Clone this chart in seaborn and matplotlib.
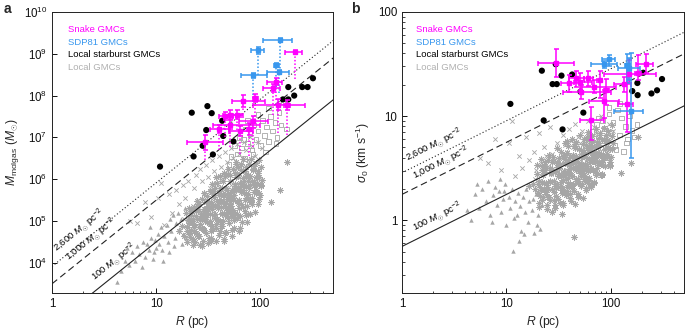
import numpy as np
import matplotlib
matplotlib.use("Agg")
import matplotlib.pyplot as plt
import matplotlib.ticker as mticker
import seaborn as sns

sns.set_style("ticks")
plt.rcParams['font.family'] = ['Liberation Sans', 'DejaVu Sans']
plt.rcParams['mathtext.fontset'] = 'custom'
plt.rcParams['mathtext.rm'] = 'Liberation Sans'
plt.rcParams['mathtext.it'] = 'Liberation Sans:italic'
plt.rcParams['mathtext.bf'] = 'Liberation Sans:bold'

# ---------------- data ----------------
# Local GMCs (grey), log10 values: R [pc], M [Msun], sigma [km/s]
ast_logR = [1.22,1.27,1.31,1.35,1.38,1.42,1.45,1.48,1.51,1.54,
            1.57,1.60,1.63,1.66,1.69,1.72,1.75,1.78,1.81,1.84,
            1.87,1.90,1.93,1.96,1.99,2.02,1.25,1.30,1.34,1.39,
            1.43,1.47,1.50,1.53,1.56,1.59,1.62,1.65,1.68,1.71,
            1.74,1.77,1.80,1.83,1.86,1.89,1.92,1.95,1.98,2.01,
            1.36,1.41,1.46,1.49,1.52,1.55,1.58,1.61,1.64,1.67,
            1.70,1.73,1.76,1.79,1.82,1.85,1.88,1.91,1.94,1.97,
            1.44,1.48,1.52,1.56,1.60,1.64,1.68,1.72,1.76,1.80,
            1.84,1.88,1.55,1.59,1.63,1.67,1.71,1.75,1.79,1.83,
            1.40,1.50,1.58,1.66,1.74,1.82,1.62,1.70,1.78,1.86,
            1.33,1.53,1.69,1.77,1.57,1.65,1.73,1.81,1.61,1.90,
            1.47,1.54,1.68,1.75,1.62,1.71,1.79,1.87,1.58,1.66,
            2.19,2.26,2.10]
ast_logM = [4.77,4.64,5.02,4.56,5.24,4.92,4.82,5.24,4.59,5.28,
            5.07,5.66,4.88,5.40,6.12,5.17,5.72,5.47,4.83,5.96,
            5.36,5.86,6.24,5.73,5.53,5.97,4.88,4.75,5.23,4.69,
            5.07,5.00,5.36,4.77,5.57,5.02,5.34,6.14,5.22,5.67,
            5.10,6.06,5.50,5.75,5.15,6.03,5.56,5.86,6.19,5.83,
            4.86,4.63,5.13,5.49,4.99,5.38,4.92,4.77,5.65,5.31,
            5.55,5.19,6.14,5.09,5.83,5.50,6.10,5.45,5.85,6.04,
            4.39,5.09,4.92,5.15,5.48,4.99,5.52,5.37,5.84,5.30,
            5.67,5.65,5.72,5.37,5.16,5.80,5.47,5.02,6.09,5.88,
            5.41,5.28,6.05,4.72,5.51,6.22,4.97,5.25,5.17,6.08,
            4.72,4.53,5.63,6.36,5.16,4.52,4.79,5.12,5.78,5.16,
            5.29,5.69,5.13,5.62,5.61,5.37,6.28,5.63,4.83,6.07,
            5.74,6.42,5.45]
ast_logsig = [0.33,0.30,0.38,0.22,0.50,0.37,0.19,0.51,0.17,0.42,
              0.40,0.53,0.34,0.51,0.68,0.35,0.64,0.47,0.32,0.66,
              0.50,0.63,0.77,0.64,0.56,0.74,0.35,0.26,0.52,0.29,
              0.45,0.31,0.44,0.26,0.55,0.41,0.50,0.71,0.36,0.61,
              0.40,0.69,0.56,0.65,0.43,0.65,0.58,0.63,0.76,0.68,
              0.36,0.22,0.46,0.55,0.37,0.47,0.32,0.25,0.55,0.48,
              0.49,0.43,0.72,0.41,0.61,0.56,0.71,0.54,0.68,0.70,
              0.08,0.35,0.33,0.43,0.49,0.35,0.56,0.50,0.61,0.49,
              0.62,0.55,0.63,0.45,0.42,0.60,0.46,0.38,0.70,0.58,
              0.58,0.50,0.76,0.16,0.48,0.75,0.34,0.45,0.36,0.70,
              0.29,0.06,0.53,0.80,0.44,-0.16,0.21,0.35,0.61,0.43,
              0.47,0.62,0.40,0.53,0.54,0.42,0.77,0.61,0.28,0.71,
              0.55,0.80,0.45]

# denser core of the local-GMC cloud
core_logR = [1.300,1.312,1.292,1.306,1.289, 1.325,1.337,1.317,1.331,1.314,
             1.350,1.362,1.342,1.356,1.339, 1.375,1.387,1.367,1.381,1.364,
             1.400,1.412,1.392,1.406,1.389, 1.425,1.437,1.417,1.431,1.414,
             1.450,1.462,1.442,1.456,1.439, 1.475,1.487,1.467,1.481,1.464,
             1.500,1.512,1.492,1.506,1.489, 1.525,1.537,1.517,1.531,1.514,
             1.550,1.562,1.542,1.556,1.539, 1.575,1.587,1.567,1.581,1.564,
             1.600,1.612,1.592,1.606,1.589, 1.625,1.637,1.617,1.631,1.614,
             1.650,1.662,1.642,1.656,1.639, 1.675,1.687,1.667,1.681,1.664,
             1.700,1.712,1.692,1.706,1.689, 1.725,1.737,1.717,1.731,1.714,
             1.750,1.762,1.742,1.756,1.739, 1.775,1.787,1.767,1.781,1.764,
             1.800,1.812,1.792,1.806,1.789, 1.825,1.837,1.817,1.831,1.814,
             1.850,1.862,1.842,1.856,1.839, 1.875,1.887,1.867,1.881,1.864,
             1.900,1.912,1.892,1.906,1.889, 1.925,1.937,1.917,1.931,1.914,
             1.950,1.962,1.942,1.956,1.939, 1.975,1.987,1.967,1.981,1.964,
             2.000,2.012,1.992,2.006,1.989]
core_logM = [4.50,4.68,4.85,5.02,5.19, 4.61,4.79,4.96,5.14,5.30,
             4.42,4.77,4.96,5.04,5.25, 4.49,4.71,4.92,5.13,5.33,
             4.63,4.85,5.05,5.28,5.47, 4.42,4.83,5.06,5.16,5.41,
             4.53,4.79,5.04,5.28,5.52, 4.71,4.97,5.20,5.46,5.68,
             4.47,4.94,5.20,5.31,5.59, 4.60,4.89,5.17,5.45,5.72,
             4.80,5.08,5.35,5.63,5.88, 4.53,5.05,5.35,5.47,5.78,
             4.67,4.99,5.30,5.61,5.91, 4.87,5.19,5.48,5.80,6.08,
             4.58,5.15,5.48,5.61,5.95, 4.73,5.08,5.42,5.75,6.08,
             4.95,5.29,5.61,5.95,6.25, 4.65,5.26,5.60,5.74,6.11,
             4.83,5.20,5.55,5.89,6.24, 5.08,5.43,5.76,6.11,6.41,
             4.77,5.40,5.76,5.90,6.28, 4.98,5.34,5.69,6.03,6.37,
             5.23,5.56,5.87,6.20,6.49, 4.98,5.53,5.84,5.96,6.29,
             5.16,5.48,5.78,6.07,6.37, 5.41,5.69,5.95,6.23,6.48,
             5.22,5.68,5.94,6.05,6.32, 5.41,5.67,5.91,6.15,6.38,
             5.63,5.85,6.05,6.28,6.47]
core_logsig = [0.35,0.17,0.53,0.26,0.44, 0.23,0.48,0.32,0.59,0.13,
               0.43,0.29,0.19,0.52,0.37, 0.36,0.15,0.56,0.25,0.46,
               0.22,0.50,0.32,0.63,0.11, 0.46,0.30,0.19,0.56,0.38,
               0.38,0.15,0.61,0.27,0.49, 0.23,0.55,0.35,0.69,0.12,
               0.50,0.32,0.20,0.60,0.42, 0.42,0.17,0.66,0.29,0.54,
               0.27,0.59,0.39,0.74,0.15, 0.54,0.36,0.24,0.65,0.46,
               0.46,0.21,0.71,0.34,0.58, 0.31,0.63,0.43,0.78,0.18,
               0.58,0.40,0.28,0.69,0.50, 0.50,0.25,0.75,0.38,0.62,
               0.35,0.67,0.47,0.82,0.22, 0.62,0.45,0.33,0.73,0.54,
               0.54,0.31,0.78,0.42,0.66, 0.40,0.71,0.52,0.85,0.29,
               0.67,0.50,0.39,0.76,0.59, 0.59,0.37,0.81,0.48,0.70,
               0.46,0.75,0.57,0.88,0.36, 0.70,0.55,0.45,0.79,0.64,
               0.64,0.43,0.84,0.54,0.74, 0.53,0.78,0.62,0.89,0.44,
               0.74,0.61,0.52,0.82,0.68, 0.69,0.52,0.86,0.61,0.77,
               0.61,0.81,0.68,0.91,0.53]

crs_logR = [0.82,0.89,0.95,1.02,1.08,1.12,1.15,1.19,1.22,1.26,
            1.28,1.31,1.33,1.36,1.38,1.40,1.42,1.44,1.46,1.48,
            1.50,1.52,1.54,1.56,1.58,1.60,1.62,1.64,1.66,1.68,
            1.70,1.72,1.74,1.76,1.78,1.80,1.82,1.84,1.86,1.88,
            1.90,1.92,1.95,1.98,2.02,1.58,1.65,1.72,1.79,1.85,
            1.55,1.62,1.69,1.76,1.83,1.27,1.35,1.43,1.05,0.75]
crs_logM = [4.95,5.45,5.10,5.55,4.90,5.65,5.20,5.75,5.40,5.85,
            5.55,5.95,5.25,5.80,6.10,5.50,6.25,5.95,5.65,6.35,
            6.05,5.80,6.45,6.20,5.90,6.55,6.30,6.00,6.65,6.40,
            6.15,6.75,6.50,6.25,6.85,6.60,6.35,6.90,6.70,6.45,
            7.00,6.80,6.55,6.90,6.75,5.40,5.70,5.85,6.05,6.15,
            5.60,5.95,5.55,5.75,5.90,5.05,5.35,5.25,5.90,5.00]
crs_logsig = [0.55,0.78,0.48,0.74,0.42,0.62,0.50,0.80,0.58,0.66,
              0.48,0.84,0.55,0.70,0.62,0.52,0.90,0.64,0.58,0.74,
              0.68,0.60,0.82,0.72,0.66,0.88,0.76,0.70,0.92,0.80,
              0.74,0.86,0.78,0.72,0.95,0.82,0.76,0.90,0.84,0.78,
              1.00,0.88,0.80,0.92,0.86,0.48,0.58,0.62,0.66,0.70,
              0.55,0.63,0.52,0.57,0.64,0.40,0.46,0.44,0.95,0.60]

tri_logR = [0.62,0.66,0.70,0.74,0.77,0.80,0.82,0.84,0.87,0.89,
            0.91,0.93,0.95,0.97,0.99,1.00,1.02,1.03,1.05,1.06,
            1.08,1.10,1.11,1.13,1.14,1.16,1.18,1.19,1.21,1.22,
            1.24,1.26,1.28,1.30,1.32,1.34,0.72,0.86,0.94,1.07,
            1.17,1.25,1.12,1.29,0.98]
tri_logM = [3.55,3.80,4.05,3.95,4.25,4.05,4.40,4.20,4.50,4.15,
            4.45,4.30,4.60,4.10,4.55,4.35,4.70,4.45,4.85,4.30,
            4.65,4.90,4.50,5.05,4.75,5.15,4.60,4.95,5.20,4.80,
            5.05,4.70,5.30,4.90,5.10,4.55,4.35,3.90,4.85,4.05,
            4.40,4.45,4.25,4.60,4.25]
tri_logsig = [0.10,0.00,0.25,0.12,0.30,0.18,0.38,0.05,0.24,0.32,
              0.15,0.28,0.08,0.20,0.35,-0.05,0.22,0.12,0.30,-0.30,
              0.18,0.05,0.26,0.14,-0.10,0.22,0.08,0.30,-0.02,0.18,
              0.10,-0.12,0.25,0.05,-0.08,0.15,0.35,-0.02,0.40,0.02,
              -0.13,0.20,-0.20,-0.05,0.28]

sq_logR = [1.72,1.75,1.78,1.80,1.82,1.84,1.86,1.88,1.90,1.92,
           1.94,1.96,1.98,2.00,2.02,2.04,2.06,2.08,2.10,2.12,
           2.14,2.16,2.18,2.20,1.70,1.85,1.93,2.05,2.15,2.25,
           1.98,2.08,2.22,1.88]
sq_logM = [6.55,6.80,6.60,7.00,6.75,6.95,7.20,6.85,7.10,6.70,
           7.30,6.95,7.15,6.80,7.40,7.05,7.25,6.90,7.50,7.15,
           7.35,7.00,7.60,7.30,6.35,6.50,6.60,6.65,6.85,7.20,
           7.55,7.70,7.85,7.40]
sq_logsig = [0.62,0.70,0.78,0.66,0.85,0.74,0.92,0.80,0.70,0.96,
             0.88,0.76,1.02,0.84,0.94,0.72,1.06,0.82,0.98,0.66,
             0.90,0.78,1.00,0.86,0.58,0.64,0.60,0.68,0.74,0.92,
             1.08,1.12,0.80,0.98]

# Local starburst GMCs (black)
sb_R_a = [10.9, 22.0, 31.1, 34.2, 43.1, 30.3, 44.1, 28.0, 22.9, 35.1, 55.3,
          186, 253, 285, 321, 212, 165, 186]
sb_M = [2.0e6, 3.9e7, 5.6e7, 3.8e7, 2.5e7, 1.5e7, 1.08e7, 6.3e6, 3.5e6, 3.9e6, 8.0e6,
        1.6e8, 1.6e8, 1.6e8, 2.6e8, 1.0e8, 8.1e7, 8.1e7]
sb_R_b = [10.9, 22.7, 21.8, 27.6, 30.3, 29.6, 33.6, 34.4, 42.5, 51.0, 54.4,
          160, 180, 179, 244, 276, 308, 204]
sb_sig = [13.1, 9.1, 27.3, 20.3, 20.3, 31.5, 24.5, 7.45, 25.1, 17.2, 10.8,
          17.4, 15.9, 20.8, 16.5, 17.7, 22.7, 26.1]

# Snake GMCs (magenta)
snake_R = [216, 142, 134, 69, 89, 148, 181, 51, 46, 51.5, 85, 64, 29.6, 40, 60, 78]
snake_Rlo = [174, 116, 107, 53, 85, 86, 170, 44, 40, 35, 62, 50, 20, 33, 55, 74]
snake_Rhi = [252, 162, 155, 111, 95, 271, 195, 66, 55, 100, 120, 85, 44, 50, 68, 82]
snake_M = [1.09e9, 2.15e8, 1.5e8, 7.5e7, 8.9e7, 6.0e7, 6.0e7, 3.5e7, 3.2e7, 2.0e7,
           2.4e7, 1.45e7, 7.9e6, 1.6e7, 3.5e7, 1.55e7]
snake_Mlo = [0.97e9, 1.75e8, 1.2e8, 5.2e7, 7.0e7, 4.4e7, 4.5e7, 2.8e7, 2.6e7, 1.55e7,
             1.7e7, 1.1e7, 5.0e6, 1.3e7, 2.8e7, 1.15e7]
snake_Mhi = [1.2e9, 2.6e8, 1.9e8, 1.05e8, 1.1e8, 8.5e7, 8.0e7, 4.6e7, 4.0e7, 2.6e7,
             3.2e7, 1.9e7, 1.15e7, 2.0e7, 4.5e7, 2.2e7]
snake_Mdot = [2.5e8, 7.9e7, 3.4e7, 4.5e7, 2.6e7, 1.27e7, 1.15e7, 1.2e7, 1.0e7, 6.0e6,
              6.0e6, 4.0e6, 2.9e6, 5.0e6, 1.5e7, 3.5e6]
snake_sig = [32.0, 13.2, 20.5, 19.1, 17.8, 25.2, 25.7, 21.4, 23.0, 17.1, 13.9, 9.2, 32.6, 21.0, 23.0, 22.0]
snake_siglo = [25.8, 7.1, 17.0, 16.5, 12.8, 20.6, 22.2, 17.8, 19.0, 14.5, 9.5, 5.9, 23.5, 17.0, 19.5, 15.0]
snake_sighi = [39.5, 30.9, 24.0, 22.2, 22.6, 34.5, 38.6, 25.8, 27.0, 20.0, 17.8, 12.1, 43.8, 25.0, 27.0, 27.0]

# SDP81 GMCs (blue)
sdp_R = [155, 95, 143, 150, 85]
sdp_Rlo = [106, 82, 135, 116, 65]
sdp_Rhi = [202, 109, 152, 189, 115]
sdp_M = [2.1e9, 1.23e9, 5.4e8, 3.6e8, 3.1e8]
sdp_Mlo = [1.9e9, 0.99e9, 4.9e8, 3.2e8, 2.7e8]
sdp_Mhi = [2.35e9, 1.48e9, 5.9e8, 4.0e8, 3.5e8]
sdp_Mdot = [3.7e8, 3.1e8, 1.6e8, 1.15e8, 7.1e7]
sdp_sig = [11.2, 35.3, 30.9, 29.0, 31.6]
sdp_siglo = [4.0, 30.3, 20.6, 22.0, 29.0]
sdp_sighi = [40.0, 38.6, 39.4, 36.0, 34.0]

surf_levels = [2600, 1000, 100]
surf_labels = ["2,600", "1,000", "100"]
yticks_a = [1e4, 1e5, 1e6, 1e7, 1e8, 1e9, 1e10]
yticks_b = [1, 10, 100]
xticks = [1, 10, 100]

# ---------------- style ----------------
GREY = "#a6a6a6"
MAG = "#ff00ff"
BLUE = "#3897ee"
LINEC = "#222222"
line_styles = [(0, (1, 2)), (0, (6, 3.5)), "-"]

fig = plt.figure(figsize=(6.85, 3.29), dpi=100)
axA = fig.add_axes([52/685, 1-293/329, 281/685, 281/329])
axB = fig.add_axes([402/685, 1-293/329, 282/685, 281/329])

def arr(v):
    return np.asarray(v, dtype=float)

def grey_cloud(ax, ycol):
    pick = lambda a, b: a if ycol == "a" else b
    groups = [
        (tri_logR, pick(tri_logM, tri_logsig), dict(marker="^", s=10, color=GREY, linewidth=0)),
        (ast_logR, pick(ast_logM, ast_logsig), dict(marker=(8, 2, 0), s=16, color=GREY, linewidth=0.6)),
        (core_logR, pick(core_logM, core_logsig), dict(marker=(8, 2, 0), s=16, color=GREY, linewidth=0.6)),
        (crs_logR, pick(crs_logM, crs_logsig), dict(marker="x", s=10, color=GREY, linewidth=0.6)),
    ]
    for xr, yr, kw in groups:
        sns.scatterplot(x=10**arr(xr), y=10**arr(yr), ax=ax, legend=False, zorder=1, **kw)
    sns.scatterplot(x=10**arr(sq_logR), y=10**arr(pick(sq_logM, sq_logsig)), ax=ax, legend=False,
                    zorder=1, marker="s", s=11, facecolor="none", edgecolor=GREY, linewidth=0.6)

Rl = np.logspace(0, np.log10(600), 60)

def model_a(surf, R):
    return np.pi * surf * R**2

def model_b(surf, R):
    return 0.56 * np.sqrt(surf / 100.0 * R)

for ax, model, ycol in [(axA, model_a, "a"), (axB, model_b, "b")]:
    grey_cloud(ax, ycol)
    for surf, ls in zip(surf_levels, line_styles):
        ax.plot(Rl, model(surf, Rl), color=LINEC, lw=0.8, ls=ls, zorder=2)
    ax.set_xscale("log")
    ax.set_yscale("log")
    ax.set_xlim(1, 500)

axA.set_ylim(10**3.277, 1e10)
axB.set_ylim(0.2, 100)

# starburst black points
sns.scatterplot(x=sb_R_a, y=sb_M, ax=axA, color="black", s=20, edgecolor="none", zorder=4, legend=False)
sns.scatterplot(x=sb_R_b, y=sb_sig, ax=axB, color="black", s=20, edgecolor="none", zorder=4, legend=False)

def errs(v, lo, hi):
    v, lo, hi = arr(v), arr(lo), arr(hi)
    return [v - lo, hi - v]

for R, Rlo, Rhi, M, Mlo, Mhi, Md, col in [
        (snake_R, snake_Rlo, snake_Rhi, snake_M, snake_Mlo, snake_Mhi, snake_Mdot, MAG),
        (sdp_R, sdp_Rlo, sdp_Rhi, sdp_M, sdp_Mlo, sdp_Mhi, sdp_Mdot, BLUE)]:
    axA.vlines(R, Md, Mlo, colors=col, linestyles=(0, (1, 1.3)), lw=1.1, zorder=5)
    axA.errorbar(R, M, xerr=errs(R, Rlo, Rhi), yerr=errs(M, Mlo, Mhi), fmt="s", ms=2.4,
                 mfc=col, mec=col, ecolor=col, elinewidth=1.1, capsize=1.8, capthick=1.1, zorder=6)

for R, Rlo, Rhi, S, Slo, Shi, col in [
        (snake_R, snake_Rlo, snake_Rhi, snake_sig, snake_siglo, snake_sighi, MAG),
        (sdp_R, sdp_Rlo, sdp_Rhi, sdp_sig, sdp_siglo, sdp_sighi, BLUE)]:
    axB.errorbar(R, S, xerr=errs(R, Rlo, Rhi), yerr=errs(S, Slo, Shi), fmt="s", ms=2.4,
                 mfc=col, mec=col, ecolor=col, elinewidth=1.1, capsize=1.8, capthick=1.1, zorder=6)

# axes cosmetics
plain = mticker.FuncFormatter(lambda v, p: f"{v:g}")
for ax in (axA, axB):
    ax.xaxis.set_major_locator(mticker.FixedLocator(xticks))
    ax.xaxis.set_minor_locator(mticker.LogLocator(base=10, subs=np.arange(2, 10)))
    ax.xaxis.set_major_formatter(plain)
    ax.xaxis.set_minor_formatter(mticker.NullFormatter())
    ax.tick_params(which="major", direction="in", length=3.5, width=0.7, labelsize=8.3, colors="#111111")
    ax.tick_params(which="minor", direction="in", length=1.8, width=0.6)
    for sp in ax.spines.values():
        sp.set_visible(True)
        sp.set_linewidth(0.7)
        sp.set_color("#222222")
    ax.set_xlabel(r"$R$ (pc)", fontsize=8.7, labelpad=3)

axA.yaxis.set_major_locator(mticker.FixedLocator(yticks_a))
axA.yaxis.set_minor_locator(mticker.NullLocator())
axA.yaxis.set_major_formatter(mticker.LogFormatterSciNotation())
axB.yaxis.set_major_locator(mticker.FixedLocator(yticks_b))
axB.yaxis.set_minor_locator(mticker.LogLocator(base=10, subs=np.arange(2, 10)))
axB.yaxis.set_major_formatter(plain)
axB.yaxis.set_minor_formatter(mticker.NullFormatter())
axA.set_xlim(1, 500)
axB.set_xlim(1, 500)

axA.set_ylabel(r"$M_{\rm molgas}$ ($M_{\odot}$)", fontsize=8.7, labelpad=2)
axB.set_ylabel(r"$\sigma_{\rm 0}$ (km s$^{-1}$)", fontsize=8.7, labelpad=4)

# legends as coloured text
leg = [("Snake GMCs", MAG), ("SDP81 GMCs", BLUE), ("Local starburst GMCs", "black"), ("Local GMCs", "#b0b0b0")]
for ax, x0 in [(axA, 0.057), (axB, 0.05)]:
    for i, (t, c) in enumerate(leg):
        ax.text(x0, 0.938 - i*0.045, t, color=c, fontsize=6.8, transform=ax.transAxes,
                ha="left", va="center", zorder=8)

# line labels
def label_line(ax, model, surf, x0, text, off=2.0):
    y0 = model(surf, x0)
    p1 = ax.transData.transform((x0, y0))
    p2 = ax.transData.transform((x0*2, model(surf, x0*2)))
    ang = np.degrees(np.arctan2(p2[1]-p1[1], p2[0]-p1[0]))
    dx = -np.sin(np.radians(ang))*off
    dy = np.cos(np.radians(ang))*off
    ax.annotate(text, xy=(x0, y0), xytext=(dx, dy), textcoords="offset points",
                rotation=ang, rotation_mode="anchor", ha="left", va="bottom",
                fontsize=6.8, color="black", zorder=3)

starts_a = [1.25, 1.6, 2.9]
starts_b = [1.22, 1.42, 1.42]
for surf, lab, xa, xb in zip(surf_levels, surf_labels, starts_a, starts_b):
    txt = lab + r" $M_{\odot}$ pc$^{-2}$"
    label_line(axA, model_a, surf, xa, txt)
    label_line(axB, model_b, surf, xb, txt)

fig.text(4/685, 1-9/329, "a", fontsize=10, fontweight="bold", va="center", ha="left")
fig.text(351/685, 1-9/329, "b", fontsize=10, fontweight="bold", va="center", ha="left")

fig.savefig("out.png", dpi=100)
